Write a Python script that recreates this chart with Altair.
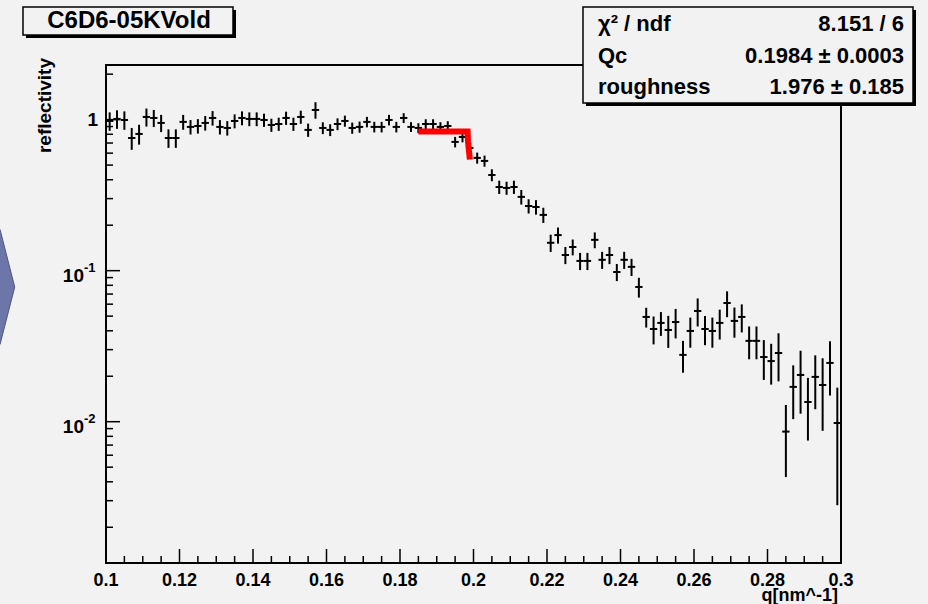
import altair as alt
import pandas as pd

# ---- data ----
q = [0.101, 0.103, 0.105, 0.107, 0.109, 0.111, 0.113, 0.115, 0.117, 0.119,
     0.121, 0.123, 0.125, 0.127, 0.129, 0.131, 0.133, 0.135, 0.137, 0.139,
     0.141, 0.143, 0.145, 0.147, 0.149, 0.151, 0.153, 0.155, 0.157, 0.159,
     0.161, 0.163, 0.165, 0.167, 0.169, 0.171, 0.173, 0.175, 0.177, 0.179,
     0.181, 0.183, 0.185, 0.187, 0.189, 0.191, 0.193, 0.195, 0.197, 0.199,
     0.201, 0.203, 0.205, 0.207, 0.209, 0.211, 0.213, 0.215, 0.217, 0.219,
     0.221, 0.223, 0.225, 0.227, 0.229, 0.231, 0.233, 0.235, 0.237, 0.239,
     0.241, 0.243, 0.245, 0.247, 0.249, 0.251, 0.253, 0.255, 0.257, 0.259,
     0.261, 0.263, 0.265, 0.267, 0.269, 0.271, 0.273, 0.275, 0.277, 0.279,
     0.281, 0.283, 0.285, 0.287, 0.289, 0.291, 0.293, 0.295, 0.297, 0.299]

reflectivity = [
    0.980, 1.011, 0.995, 0.756, 0.804, 1.042, 1.026, 0.951, 0.756, 0.756,
    0.966, 0.895, 0.908, 0.951, 1.026, 0.895, 0.881, 0.980, 1.026, 1.011,
    1.011, 0.995, 0.922, 0.936, 1.026, 0.936, 1.042, 0.855, 1.159, 0.881,
    0.855, 0.936, 0.980, 0.881, 0.895, 0.966, 0.895, 0.895, 0.995, 0.895,
    1.026, 0.895, 0.881, 0.936, 0.936, 0.895, 0.908, 0.712, 0.768, 0.650,
    0.558, 0.533, 0.430, 0.358, 0.353, 0.358, 0.308, 0.268, 0.264, 0.234,
    0.153, 0.172, 0.127, 0.1435, 0.116, 0.116, 0.160, 0.118, 0.127, 0.098,
    0.118, 0.106, 0.078, 0.0494, 0.0411, 0.0451, 0.0405, 0.0457, 0.0277, 0.0399,
    0.0541, 0.0411, 0.0399, 0.0451, 0.0611, 0.0465, 0.0494, 0.0343, 0.0343, 0.0268,
    0.0252, 0.0285, 0.0086, 0.0170, 0.0204, 0.0135, 0.0198, 0.0175, 0.0245, 0.0098]

error = [
    0.137, 0.142, 0.139, 0.125, 0.121, 0.142, 0.133, 0.124, 0.106, 0.106,
    0.109, 0.098, 0.100, 0.105, 0.113, 0.098, 0.097, 0.104, 0.108, 0.106,
    0.106, 0.100, 0.092, 0.094, 0.103, 0.094, 0.104, 0.086, 0.145, 0.079,
    0.077, 0.084, 0.083, 0.075, 0.076, 0.077, 0.072, 0.072, 0.080, 0.072,
    0.077, 0.067, 0.066, 0.070, 0.070, 0.067, 0.068, 0.057, 0.061, 0.052,
    0.047, 0.045, 0.039, 0.036, 0.035, 0.036, 0.034, 0.029, 0.029, 0.027,
    0.020, 0.021, 0.0165, 0.0172, 0.0151, 0.0151, 0.0192, 0.0153, 0.0165, 0.0127,
    0.0153, 0.0138, 0.0117, 0.0074, 0.0086, 0.0081, 0.0097, 0.0101, 0.0066, 0.0090,
    0.0114, 0.0090, 0.0090, 0.0101, 0.0119, 0.0105, 0.0104, 0.0084, 0.0084, 0.0079,
    0.0076, 0.0100, 0.0043, 0.0066, 0.0091, 0.0060, 0.0077, 0.0088, 0.0096, 0.0070]

bin_half_width = 0.001

fit_q = [0.185, 0.1984, 0.1985, 0.1987, 0.1989, 0.1990]
fit_r = [0.833, 0.833, 0.720, 0.640, 0.580, 0.545]

x_major = [0.1, 0.12, 0.14, 0.16, 0.18, 0.2, 0.22, 0.24, 0.26, 0.28, 0.3]
x_labels = ["0.1", "0.12", "0.14", "0.16", "0.18", "0.2", "0.22", "0.24",
            "0.26", "0.28", "0.3"]
x_minor = [0.105, 0.11, 0.115, 0.125, 0.13, 0.135, 0.145, 0.15, 0.155,
           0.165, 0.17, 0.175, 0.185, 0.19, 0.195, 0.205, 0.21, 0.215,
           0.225, 0.23, 0.235, 0.245, 0.25, 0.255, 0.265, 0.27, 0.275,
           0.285, 0.29, 0.295]
y_major = [0.01, 0.1, 1]
y_minor = [0.002, 0.003, 0.004, 0.005, 0.006, 0.007, 0.008, 0.009,
           0.02, 0.03, 0.04, 0.05, 0.06, 0.07, 0.08, 0.09,
           0.2, 0.3, 0.4, 0.5, 0.6, 0.7, 0.8, 0.9, 2]
y_pow_values = [0.01, 0.1]
y_pow_base = ["10", "10"]
y_pow_exp = ["-2", "-1"]
y_unit_value = [1]
y_unit_label = ["1"]

title_text = "C6D6-05KVold"
x_title = "q[nm^-1]"
y_title = "reflectivity"
stat_names = ["χ² / ndf", "Qc", "roughness"]
stat_values = ["8.151 / 6", "0.1984 ± 0.0003", "1.976 ± 0.185"]

# ---- layout ----
W, H = 735, 498
FONT = "Liberation Sans"
BG = "#f2f2f2"

df = pd.DataFrame({"q": q, "r": reflectivity, "e": error})
df["lo"] = df["r"] - df["e"]
df["hi"] = df["r"] + df["e"]
df["ql"] = df["q"] - bin_half_width
df["qh"] = df["q"] + bin_half_width

xs = alt.Scale(domain=[0.1, 0.3], nice=False, zero=False)
ys = alt.Scale(type="log", domain=[0.00116, 2.3], nice=False)

one = alt.Data(values=[{"a": 1}])


def txt(**kw):
    base = dict(font=FONT, fontWeight="bold", color="black")
    base.update(kw)
    return base


vbars = alt.Chart(df).mark_rule(color="black", strokeWidth=2).encode(
    x=alt.X("q:Q", scale=xs, axis=None),
    y=alt.Y("lo:Q", scale=ys, axis=None),
    y2="hi:Q",
)
hbars = alt.Chart(df).mark_rule(color="black", strokeWidth=2).encode(
    x=alt.X("ql:Q", scale=xs, axis=None),
    x2="qh:Q",
    y=alt.Y("r:Q", scale=ys, axis=None),
)
fit = alt.Chart(pd.DataFrame({"q": fit_q, "r": fit_r})).mark_line(
    color="#ff0000", strokeWidth=6, strokeCap="butt", interpolate="linear"
).encode(
    x=alt.X("q:Q", scale=xs, axis=None),
    y=alt.Y("r:Q", scale=ys, axis=None),
)

# ticks (ROOT style, pointing into the frame)
xmaj = alt.Chart(pd.DataFrame({"v": x_major})).mark_rule(color="black", strokeWidth=1.5).encode(
    x=alt.X("v:Q", scale=xs, axis=None), y=alt.value(H), y2=alt.value(H - 14))
xmin = alt.Chart(pd.DataFrame({"v": x_minor})).mark_rule(color="black", strokeWidth=1.5).encode(
    x=alt.X("v:Q", scale=xs, axis=None), y=alt.value(H), y2=alt.value(H - 7))
ymaj = alt.Chart(pd.DataFrame({"v": y_major})).mark_rule(color="black", strokeWidth=1.5).encode(
    y=alt.Y("v:Q", scale=ys, axis=None), x=alt.value(0), x2=alt.value(14))
ymin = alt.Chart(pd.DataFrame({"v": y_minor})).mark_rule(color="black", strokeWidth=1.5).encode(
    y=alt.Y("v:Q", scale=ys, axis=None), x=alt.value(0), x2=alt.value(7))

# tick labels and axis titles
xlab = alt.Chart(pd.DataFrame({"v": x_major, "t": x_labels})).mark_text(
    **txt(fontSize=18, align="center", baseline="alphabetic", dy=23)).encode(
    x=alt.X("v:Q", scale=xs, axis=None), y=alt.value(H), text="t:N")
xtit = alt.Chart(one).mark_text(**txt(fontSize=18, align="right", baseline="alphabetic")).encode(
    x=alt.value(W - 3), y=alt.value(H + 38), text=alt.value(x_title))

ylab1 = alt.Chart(pd.DataFrame({"v": y_unit_value, "t": y_unit_label})).mark_text(
    **txt(fontSize=19, align="right", baseline="middle", dx=-8)).encode(
    y=alt.Y("v:Q", scale=ys, axis=None), x=alt.value(0), text="t:N")
ylab_b = alt.Chart(pd.DataFrame({"v": y_pow_values, "t": y_pow_base})).mark_text(
    **txt(fontSize=19, align="right", baseline="middle", dx=-22, dy=5)).encode(
    y=alt.Y("v:Q", scale=ys, axis=None), x=alt.value(0), text="t:N")
ylab_e = alt.Chart(pd.DataFrame({"v": y_pow_values, "t": y_pow_exp})).mark_text(
    **txt(fontSize=13, align="left", baseline="middle", dx=-22, dy=-3)).encode(
    y=alt.Y("v:Q", scale=ys, axis=None), x=alt.value(0), text="t:N")
ytit = alt.Chart(one).mark_text(**txt(fontSize=19, align="right", baseline="middle", angle=270)).encode(
    x=alt.value(-61), y=alt.value(-7), text=alt.value(y_title))

frame = alt.Chart(one).mark_rect(fill=None, stroke="black", strokeWidth=2).encode(
    x=alt.value(0), x2=alt.value(W), y=alt.value(0), y2=alt.value(H))

# title box (top-left, with drop shadow)
t_shadow = alt.Chart(one).mark_rect(fill="black").encode(
    x=alt.value(-80), x2=alt.value(130), y=alt.value(-55), y2=alt.value(-27))
t_box = alt.Chart(one).mark_rect(fill=BG, stroke="black", strokeWidth=1.5).encode(
    x=alt.value(-83), x2=alt.value(127), y=alt.value(-58), y2=alt.value(-30))
t_text = alt.Chart(one).mark_text(**txt(fontSize=24, align="center", baseline="middle")).encode(
    x=alt.value(23), y=alt.value(-44), text=alt.value(title_text))

# statistics box (top-right, with drop shadow)
s_shadow = alt.Chart(one).mark_rect(fill="black").encode(
    x=alt.value(480), x2=alt.value(810), y=alt.value(-55), y2=alt.value(41))
s_box = alt.Chart(one).mark_rect(fill=BG, stroke="black", strokeWidth=1.5).encode(
    x=alt.value(477), x2=alt.value(807), y=alt.value(-58), y2=alt.value(38))
row_y = [-41, -9, 22]
stat_layers = []
for name, val, yy in zip(stat_names, stat_values, row_y):
    stat_layers.append(alt.Chart(one).mark_text(**txt(fontSize=22, align="left", baseline="middle")).encode(
        x=alt.value(492), y=alt.value(yy), text=alt.value(name)))
    stat_layers.append(alt.Chart(one).mark_text(**txt(fontSize=22, align="right", baseline="middle")).encode(
        x=alt.value(798), y=alt.value(yy), text=alt.value(val)))

# slide-navigation chevron at the far left edge of the picture
chev = alt.Chart(one).mark_point(
    shape="M -0.4 -0.9 L 0 -0.9 L 0.23 0 L 0 0.9 L -0.4 0.9 Z",
    size=16384, filled=True, fill="#6d76a9", stroke="#4d5580", strokeWidth=1, opacity=1
).encode(x=alt.value(-106), y=alt.value(222))

chart = alt.layer(
    vbars, hbars, fit, xmaj, xmin, ymaj, ymin, frame,
    xlab, xtit, ylab1, ylab_b, ylab_e, ytit,
    t_shadow, t_box, t_text, s_shadow, s_box, *stat_layers, chev,
).properties(
    width=W, height=H,
    autosize=alt.AutoSizeParams(type="none"),
    padding={"left": 106, "top": 65, "right": 87, "bottom": 41},
    background=BG,
).configure_view(stroke=None, fill=BG)

chart.save("out.html", embed_options={"renderer": "svg", "actions": False})
